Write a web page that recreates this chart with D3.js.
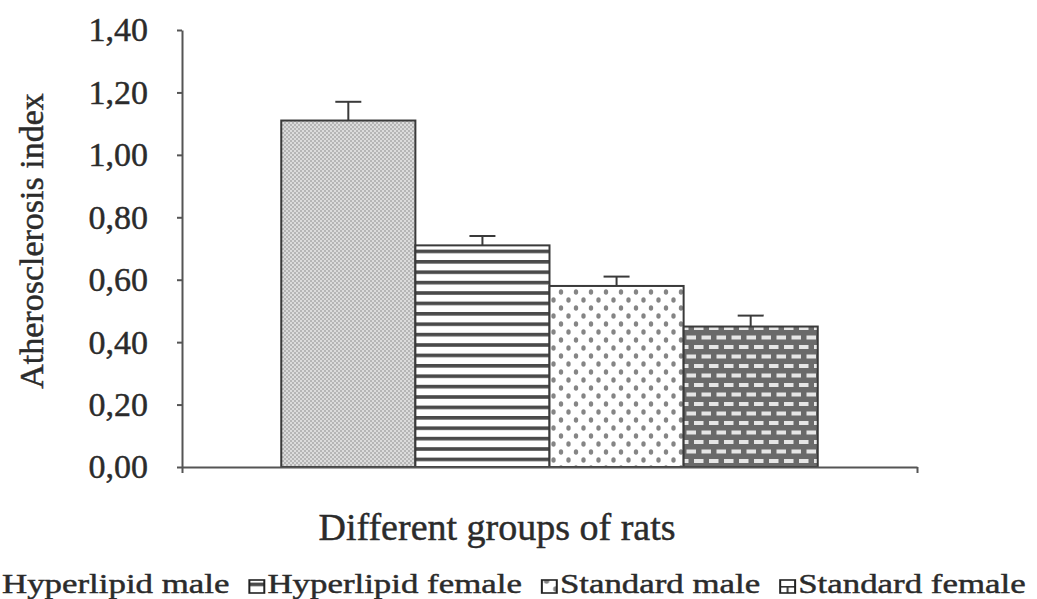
<!DOCTYPE html>
<html>
<head>
<meta charset="utf-8">
<script src="https://cdn.jsdelivr.net/npm/d3@7"></script>
<style>
  html, body { margin: 0; padding: 0; background: #fff; }
  svg { display: block; }
  text { font-family: "Liberation Serif", "Times New Roman", serif; fill: #2b2b2b; stroke: #2b2b2b; stroke-width: 0.45px; }
</style>
</head>
<body>
<svg id="chart" width="1037" height="599"></svg>
<script>
// ---- data ----
const categories = ["Different groups of rats"];
const series = ["Hyperlipid male", "Hyperlipid female", "Standard male", "Standard female"];
const values = [1.11, 0.71, 0.58, 0.45];
const errors = [0.06, 0.03, 0.03, 0.035];
const yTicks = [0, 0.2, 0.4, 0.6, 0.8, 1.0, 1.2, 1.4];
const yTitle = "Atherosclerosis index";
const xTitle = "Different groups of rats";
const patternIds = ["pHM", "pHF", "pSM", "pSF"];
const legendPatternIds = ["pHM", "pHF", "pSM", "pSFL"];

// ---- layout ----
const W = 1037, H = 599;
const plot = { left: 182, right: 917, top: 30, bottom: 467 };
const axisColor = "#555";
const edgeColor = "#3a3a3a";

const svg = d3.select("#chart");
svg.append("rect").attr("width", W).attr("height", H).attr("fill", "#fff");

// ---- patterns ----
const defs = svg.append("defs");
// Hyperlipid male: fine light-grey checker
let p = defs.append("pattern").attr("id", "pHM").attr("patternUnits", "userSpaceOnUse")
  .attr("width", 4).attr("height", 4);
p.append("rect").attr("width", 4).attr("height", 4).attr("fill", "#dcdcdc");
p.append("rect").attr("x", 0).attr("y", 0).attr("width", 2).attr("height", 2).attr("fill", "#b6b6b6");
p.append("rect").attr("x", 2).attr("y", 2).attr("width", 2).attr("height", 2).attr("fill", "#b6b6b6");
// Hyperlipid female: horizontal stripes
p = defs.append("pattern").attr("id", "pHF").attr("patternUnits", "userSpaceOnUse")
  .attr("width", 10).attr("height", 10.4);
p.append("rect").attr("width", 10).attr("height", 10.4).attr("fill", "#fff");
p.append("rect").attr("x", 0).attr("y", 0).attr("width", 10).attr("height", 3.6).attr("fill", "#4a4a4a");
// Standard male: staggered dots
p = defs.append("pattern").attr("id", "pSM").attr("patternUnits", "userSpaceOnUse")
  .attr("width", 15).attr("height", 16);
p.append("rect").attr("width", 15).attr("height", 16).attr("fill", "#fff");
p.append("ellipse").attr("cx", 4).attr("cy", 4).attr("rx", 2.2).attr("ry", 2.7).attr("fill", "#858585");
p.append("ellipse").attr("cx", 11.5).attr("cy", 12).attr("rx", 2.2).attr("ry", 2.7).attr("fill", "#858585");
// Standard female: bricks
p = defs.append("pattern").attr("id", "pSF").attr("patternUnits", "userSpaceOnUse")
  .attr("width", 15).attr("height", 19);
p.append("rect").attr("width", 15).attr("height", 19).attr("fill", "#6a6a6a");
p.append("rect").attr("x", 2).attr("y", 3).attr("width", 9.5).attr("height", 4).attr("fill", "#e6e6e6");
p.append("rect").attr("x", 9.5).attr("y", 12.5).attr("width", 9.5).attr("height", 4).attr("fill", "#e6e6e6");
p.append("rect").attr("x", -5.5).attr("y", 12.5).attr("width", 9.5).attr("height", 4).attr("fill", "#e6e6e6");
// legend swatch for Standard female: light box with brick lines
p = defs.append("pattern").attr("id", "pSFL").attr("patternUnits", "objectBoundingBox")
  .attr("width", 1).attr("height", 1);
p.append("rect").attr("width", 12).attr("height", 13).attr("fill", "#fff");
p.append("rect").attr("x", 0).attr("y", 6).attr("width", 12).attr("height", 1.6).attr("fill", "#333");
p.append("rect").attr("x", 5.2).attr("y", 6).attr("width", 1.6).attr("height", 7).attr("fill", "#333");

// ---- scales ----
const y = d3.scaleLinear().domain([0, 1.4]).range([plot.bottom, plot.top]);
const x0 = d3.scaleBand().domain(categories).range([plot.left, plot.right]);
const x1 = d3.scaleBand().domain(series).range([0, x0.bandwidth()]).paddingInner(0).paddingOuter(0.74);
const xEdge = d3.scaleLinear().domain([0, 1]).range([plot.left, plot.right]);

// ---- bars ----
const data = series.map((s, i) => ({ s, v: values[i], e: errors[i], pat: patternIds[i] }));
const g = svg.append("g").attr("transform", `translate(${x0(categories[0])},0)`);
g.selectAll("rect.bar").data(data).join("rect")
  .attr("class", "bar")
  .attr("x", d => x1(d.s))
  .attr("y", d => y(d.v))
  .attr("width", x1.bandwidth())
  .attr("height", d => y(0) - y(d.v))
  .attr("fill", d => `url(#${d.pat})`)
  .attr("stroke", edgeColor)
  .attr("stroke-width", 2);

// error bars (upper)
const eb = g.selectAll("g.err").data(data).join("g").attr("class", "err");
eb.append("line")
  .attr("x1", d => x1(d.s) + x1.bandwidth() / 2)
  .attr("x2", d => x1(d.s) + x1.bandwidth() / 2)
  .attr("y1", d => y(d.v))
  .attr("y2", d => y(d.v + d.e))
  .attr("stroke", edgeColor).attr("stroke-width", 2);
eb.append("line")
  .attr("x1", d => x1(d.s) + x1.bandwidth() / 2 - 13)
  .attr("x2", d => x1(d.s) + x1.bandwidth() / 2 + 13)
  .attr("y1", d => y(d.v + d.e))
  .attr("y2", d => y(d.v + d.e))
  .attr("stroke", edgeColor).attr("stroke-width", 2);

// ---- axes ----
const fmt = v => d3.format(".2f")(v).replace(".", ",");
const yAxis = svg.append("g").attr("transform", `translate(${plot.left},0)`)
  .call(d3.axisLeft(y).tickValues(yTicks).tickFormat(fmt).tickSize(5).tickSizeOuter(0).tickPadding(29));
yAxis.select(".domain").attr("stroke", axisColor).attr("stroke-width", 2);
yAxis.selectAll(".tick line").attr("stroke", axisColor).attr("stroke-width", 2);
yAxis.selectAll(".tick text")
  .style("font-family", '"Liberation Serif", serif')
  .style("font-size", "34px").attr("fill", "#2b2b2b");

const xAxis = svg.append("g").attr("transform", `translate(0,${plot.bottom})`)
  .call(d3.axisBottom(xEdge).tickValues([0, 1]).tickFormat("").tickSize(6).tickSizeOuter(0));
xAxis.select(".domain").attr("stroke", axisColor).attr("stroke-width", 2);
xAxis.selectAll(".tick line").attr("stroke", axisColor).attr("stroke-width", 2);

// ---- titles ----
svg.append("text")
  .attr("transform", `translate(43,${241}) rotate(-90)`)
  .attr("text-anchor", "middle")
  .style("font-size", "34px")
  .text(yTitle);

svg.append("text")
  .attr("x", 497).attr("y", 540)
  .attr("text-anchor", "middle")
  .style("font-size", "38px")
  .text(xTitle);

// ---- legend ----
const sx = 1.245;
const lg = svg.append("g").attr("transform", `translate(0,593) scale(${sx},1)`);
let cx = 2 / sx - 2.5 - 12;
series.forEach((s, i) => {
  lg.append("rect")
    .attr("x", cx).attr("y", -13).attr("width", 12).attr("height", 13)
    .attr("fill", `url(#${legendPatternIds[i]})`)
    .attr("stroke", "#222").attr("stroke-width", 1.6);
  cx += 12 + 2.5;
  const t = lg.append("text").attr("x", cx).attr("y", 0)
    .style("font-size", "28px").text(s);
  cx += t.node().getComputedTextLength() + 16;
});
</script>
</body>
</html>
